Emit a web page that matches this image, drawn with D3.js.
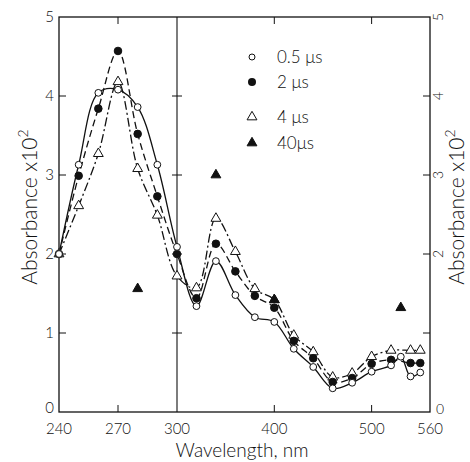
<!DOCTYPE html>
<html>
<head>
    <meta charset="utf-8">
    <title>Absorbance spectra</title>
    <script src="https://d3js.org/d3.v7.min.js"></script>
    <style>
        body { margin: 0; background: #fff; }
        text { font-family: Lato, "DejaVu Sans", sans-serif; font-weight: 300; fill: #111; }
    </style>
</head>
<body>
    <script>
        var width = 470;
        var height = 462;

        // 0.5 us (open circles, solid line)
        var wl05 = [240, 250, 260, 270, 280, 290, 300, 320, 340, 360, 380, 400, 420, 440, 460, 480, 500, 520, 530, 540, 550];
        var abs05 = [2.0, 3.13, 4.04, 4.08, 3.86, 3.13, 2.09, 1.34, 1.91, 1.48, 1.20, 1.14, 0.80, 0.57, 0.30, 0.37, 0.51, 0.59, 0.70, 0.45, 0.50];
        // 2 us (filled circles, dashed line)
        var wl2 = [240, 250, 260, 270, 280, 290, 300, 320, 340, 360, 380, 400, 420, 440, 460, 480, 500, 520, 540, 550];
        var abs2 = [2.0, 2.99, 3.84, 4.57, 3.52, 2.73, 2.0, 1.44, 2.13, 1.78, 1.47, 1.32, 0.90, 0.68, 0.38, 0.43, 0.61, 0.66, 0.62, 0.62];
        // 4 us (open triangles, dash-dot line)
        var wl4 = [240, 250, 260, 270, 280, 290, 300, 320, 340, 360, 380, 400, 420, 440, 460, 480, 500, 520, 540, 550];
        var abs4 = [2.0, 2.61, 3.27, 4.18, 3.08, 2.49, 1.72, 1.57, 2.45, 2.03, 1.56, 1.42, 0.97, 0.76, 0.44, 0.49, 0.70, 0.78, 0.78, 0.78];
        // 40 us (filled triangles, no line)
        var wl40 = [280, 340, 400, 530];
        var abs40 = [1.56, 3.0, 1.42, 1.32];

        var xTicks = [240, 270, 300, 400, 500, 560];
        var yTicks = [0, 1, 2, 3, 4, 5];
        var legendLabels = ["0.5 \u03bcs", "2 \u03bcs", "4 \u03bcs", "40\u03bcs"];

        var x = d3.scaleLinear().domain([240, 300, 560]).range([59, 177, 430]);
        var y = d3.scaleLinear().domain([0, 5]).range([412, 17]);

        var svg = d3.select("body").append("svg")
            .attr("width", width)
            .attr("height", height);

        var ink = "#111";

        // frame
        svg.append("rect")
            .attr("x", x(240)).attr("y", y(5))
            .attr("width", x(560) - x(240)).attr("height", y(0) - y(5))
            .attr("fill", "none").attr("stroke", ink).attr("stroke-width", 1.3);

        // inner vertical line at 300 nm
        svg.append("line")
            .attr("x1", x(300)).attr("x2", x(300))
            .attr("y1", y(5)).attr("y2", y(0))
            .attr("stroke", ink).attr("stroke-width", 1.1);

        // ticks
        var inner = [270, 400, 500];
        inner.forEach(function(w) {
            svg.append("line").attr("x1", x(w)).attr("x2", x(w)).attr("y1", y(5)).attr("y2", y(5) + 7).attr("stroke", ink);
            svg.append("line").attr("x1", x(w)).attr("x2", x(w)).attr("y1", y(0)).attr("y2", y(0) - 7).attr("stroke", ink);
        });
        [1, 2, 3, 4].forEach(function(v) {
            svg.append("line").attr("x1", x(240)).attr("x2", x(240) + 7).attr("y1", y(v)).attr("y2", y(v)).attr("stroke", ink);
            svg.append("line").attr("x1", x(560)).attr("x2", x(560) - 7).attr("y1", y(v)).attr("y2", y(v)).attr("stroke", ink);
            svg.append("line").attr("x1", x(300) - 5).attr("x2", x(300) + 5).attr("y1", y(v)).attr("y2", y(v)).attr("stroke", ink);
        });

        // x tick labels
        svg.selectAll("text.xt")
            .data(xTicks)
            .enter().append("text")
            .attr("class", "xt")
            .attr("x", function(d) { return x(d); })
            .attr("y", 434)
            .attr("text-anchor", "middle")
            .attr("font-size", 15)
            .text(function(d) { return d; });

        // left y tick labels
        svg.selectAll("text.yl")
            .data(yTicks)
            .enter().append("text")
            .attr("class", "yl")
            .attr("x", 54)
            .attr("y", function(d) { return d === 0 ? y(d) - 4 : y(d); })
            .attr("dy", "0.35em")
            .attr("text-anchor", "end")
            .attr("font-size", 15)
            .text(function(d) { return d; });

        // right y tick labels (rotated)
        svg.selectAll("text.yr")
            .data(yTicks.filter(function(d) { return d >= 2; }))
            .enter().append("text")
            .attr("class", "yr")
            .attr("transform", function(d) { return "translate(443," + y(d) + ")rotate(-90)"; })
            .attr("text-anchor", "middle")
            .attr("font-size", 14)
            .text(function(d) { return d; });
        svg.append("text")
            .attr("x", 436).attr("y", y(0) + 2)
            .attr("font-size", 14)
            .text("0");

        // axis titles
        function yTitle(tx, ty) {
            var t = svg.append("text")
                .attr("transform", "translate(" + tx + "," + ty + ")rotate(-90)")
                .attr("text-anchor", "middle")
                .attr("font-size", 21);
            t.append("tspan").text("Absorbance x10");
            t.append("tspan").attr("dy", -9).attr("font-size", 14).text("2");
        }
        yTitle(37, 207);
        yTitle(464, 207);

        svg.append("text")
            .attr("x", 242).attr("y", 457)
            .attr("text-anchor", "middle")
            .attr("font-size", 19)
            .text("Wavelength, nm");

        // curves
        function curve(wl, ab, dash) {
            var pts = wl.map(function(w, i) { return [w, ab[i]]; });
            svg.append("path")
                .datum(pts)
                .attr("fill", "none")
                .attr("stroke", ink)
                .attr("stroke-width", 1.3)
                .attr("stroke-dasharray", dash)
                .attr("d", d3.line()
                    .x(function(d) { return x(d[0]); })
                    .y(function(d) { return y(d[1]); })
                    .curve(d3.curveCatmullRom.alpha(0.5)));
        }
        curve(wl05, abs05, null);
        curve(wl2, abs2, "7,4");
        curve(wl4, abs4, "9,3,2,3");

        var tri = d3.symbol().type(d3.symbolTriangle).size(42);

        function circles(wl, ab, r, fill) {
            svg.append("g").selectAll("circle")
                .data(wl)
                .enter().append("circle")
                .attr("cx", function(d) { return x(d); })
                .attr("cy", function(d, i) { return y(ab[i]); })
                .attr("r", r)
                .attr("fill", fill)
                .attr("stroke", ink)
                .attr("stroke-width", 1);
        }
        function triangles(wl, ab, fill) {
            svg.append("g").selectAll("path")
                .data(wl)
                .enter().append("path")
                .attr("d", tri)
                .attr("transform", function(d, i) { return "translate(" + x(d) + "," + y(ab[i]) + ")"; })
                .attr("fill", fill)
                .attr("stroke", ink)
                .attr("stroke-width", 1);
        }
        triangles(wl4, abs4, "#fff");
        circles(wl2, abs2, 3.8, ink);
        circles(wl05, abs05, 3.4, "#fff");
        triangles(wl40, abs40, ink);

        // legend
        var legY = [57, 82, 117, 143];
        var lg = svg.append("g");
        lg.append("circle").attr("cx", 252).attr("cy", legY[0]).attr("r", 3).attr("fill", "#fff").attr("stroke", ink);
        lg.append("circle").attr("cx", 252).attr("cy", legY[1]).attr("r", 4).attr("fill", ink);
        lg.append("path").attr("d", tri).attr("transform", "translate(252," + legY[2] + ")").attr("fill", "#fff").attr("stroke", ink);
        lg.append("path").attr("d", tri).attr("transform", "translate(252," + legY[3] + ")").attr("fill", ink).attr("stroke", ink);
        lg.selectAll("text")
            .data(legendLabels)
            .enter().append("text")
            .attr("x", 277)
            .attr("y", function(d, i) { return legY[i]; })
            .attr("dy", "0.35em")
            .attr("font-size", 17)
            .text(function(d) { return d; });
    </script>
</body>
</html>
